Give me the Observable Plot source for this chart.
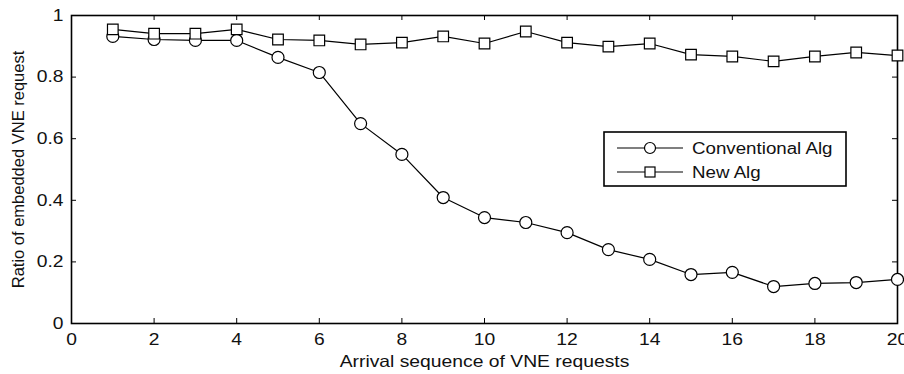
<!DOCTYPE html>
<html>
<head>
<meta charset="utf-8">
<script src="https://cdn.jsdelivr.net/npm/d3@7"></script>
<script src="https://cdn.jsdelivr.net/npm/@observablehq/plot@0.6"></script>
<style>
  html, body { margin: 0; padding: 0; background: #fff; }
  #wrap { position: relative; width: 904px; height: 374px; font-family: "Liberation Sans", Arial, sans-serif; }
  #legend { position: absolute; left: 0; top: 0; pointer-events: none; }
</style>
</head>
<body>
<div id="wrap"></div>
<script>
const arrival = [1,2,3,4,5,6,7,8,9,10,11,12,13,14,15,16,17,18,19,20];
const conventional = [0.932,0.922,0.919,0.919,0.864,0.815,0.649,0.549,0.409,0.344,0.328,0.295,0.240,0.208,0.159,0.166,0.120,0.130,0.133,0.143];
const newAlg = [0.955,0.941,0.941,0.955,0.922,0.919,0.906,0.912,0.932,0.909,0.948,0.912,0.899,0.909,0.873,0.867,0.851,0.867,0.880,0.870];
const seriesNames = ["Conventional Alg", "New Alg"];
const xTicks = [0,2,4,6,8,10,12,14,16,18,20];
const yTicks = [0,0.2,0.4,0.6,0.8,1];
const yTickLabels = ["0","0.2","0.4","0.6","0.8","1"];

const W = 904, H = 374;
const mL = 71, mR = 7, mT = 15, mB = 51;
const innerW = W - mL - mR, innerH = H - mT - mB;
const tk = 5;
const FS = 16.5;
const stretch = 1.17;

const convData = arrival.map((x, i) => ({x, y: conventional[i]}));
const newData = arrival.map((x, i) => ({x, y: newAlg[i]}));

const plot = Plot.plot({
  width: W, height: H,
  marginLeft: mL, marginRight: mR, marginTop: mT, marginBottom: mB,
  style: {fontFamily: "Liberation Sans, Arial, sans-serif", fontSize: FS + "px", color: "#111", background: "#fff", overflow: "visible"},
  x: {domain: [0, 20]},
  y: {domain: [0, 1]},
  marks: [
    Plot.axisX(xTicks, {tickSize: 0, tickPadding: 10, fontSize: FS, label: null}),
    Plot.axisY(yTicks, {tickSize: 0, tickPadding: 8, fontSize: FS, label: null, tickFormat: (d, i) => yTickLabels[i]}),
    Plot.text(["Arrival sequence of VNE requests"], {frameAnchor: "bottom", lineAnchor: "middle", dy: 38, fontSize: FS, text: d => d}),
    Plot.text(["Ratio of embedded VNE request"], {frameAnchor: "left", lineAnchor: "middle", textAnchor: "middle", dx: -53, rotate: -90, fontSize: FS, text: d => d, className: "ylabel"}),
    Plot.tickX(xTicks, {x: d => d, insetTop: innerH - tk, stroke: "#000", strokeWidth: 1}),
    Plot.tickX(xTicks, {x: d => d, insetBottom: innerH - tk, stroke: "#000", strokeWidth: 1}),
    Plot.tickY(yTicks, {y: d => d, insetRight: innerW - tk, stroke: "#000", strokeWidth: 1}),
    Plot.tickY(yTicks, {y: d => d, insetLeft: innerW - tk, stroke: "#000", strokeWidth: 1}),
    Plot.frame({stroke: "#000", strokeWidth: 1.6}),
    Plot.line(convData, {x: "x", y: "y", stroke: "#000", strokeWidth: 1.2}),
    Plot.line(newData, {x: "x", y: "y", stroke: "#000", strokeWidth: 1.2}),
    Plot.dot(convData, {x: "x", y: "y", r: 6, symbol: "circle", fill: "#fff", stroke: "#000", strokeWidth: 1.2}),
    Plot.dot(newData, {x: "x", y: "y", r: 6, symbol: "square", fill: "#fff", stroke: "#000", strokeWidth: 1.2})
  ]
});

const wrap = document.getElementById("wrap");
wrap.appendChild(plot);

// legend overlay (pixel layout only)
const lg = {left: 604, top: 132, width: 242, height: 54, rowY: [16, 40], lineX1: 13, lineX2: 79, markX: 46, textX: 88};
const legendSvg = d3.create("svg").attr("id", "legend").attr("width", W).attr("height", H);
const g = legendSvg.append("g").attr("transform", `translate(${lg.left},${lg.top})`);
g.append("rect").attr("x", 0).attr("y", 0).attr("width", lg.width).attr("height", lg.height)
  .attr("fill", "#fff").attr("stroke", "#000").attr("stroke-width", 1.6);
const symbols = ["circle", "square"];
seriesNames.forEach((name, i) => {
  const y = lg.rowY[i];
  g.append("line").attr("x1", lg.lineX1).attr("x2", lg.lineX2).attr("y1", y).attr("y2", y)
    .attr("stroke", "#000").attr("stroke-width", 1.2);
  if (symbols[i] === "circle") {
    g.append("circle").attr("cx", lg.markX).attr("cy", y).attr("r", 5.5)
      .attr("fill", "#fff").attr("stroke", "#000").attr("stroke-width", 1.2);
  } else {
    g.append("rect").attr("x", lg.markX - 5).attr("y", y - 5).attr("width", 10).attr("height", 10)
      .attr("fill", "#fff").attr("stroke", "#000").attr("stroke-width", 1.2);
  }
  g.append("text").attr("x", lg.textX).attr("y", y).attr("dy", "0.35em")
    .attr("font-family", "Liberation Sans, Arial, sans-serif").attr("font-size", 16).attr("fill", "#111")
    .text(name);
});
wrap.appendChild(legendSvg.node());

// horizontal stretch of horizontal texts to match the reference's wide glyphs
function widen(svg) {
  svg.querySelectorAll("text").forEach(t => {
    if (t.closest(".ylabel")) return;
    const len = t.getComputedTextLength();
    if (len > 0) {
      t.setAttribute("textLength", (len * stretch).toFixed(1));
      t.setAttribute("lengthAdjust", "spacingAndGlyphs");
    }
  });
}
widen(plot);
widen(legendSvg.node());
</script>
</body>
</html>
